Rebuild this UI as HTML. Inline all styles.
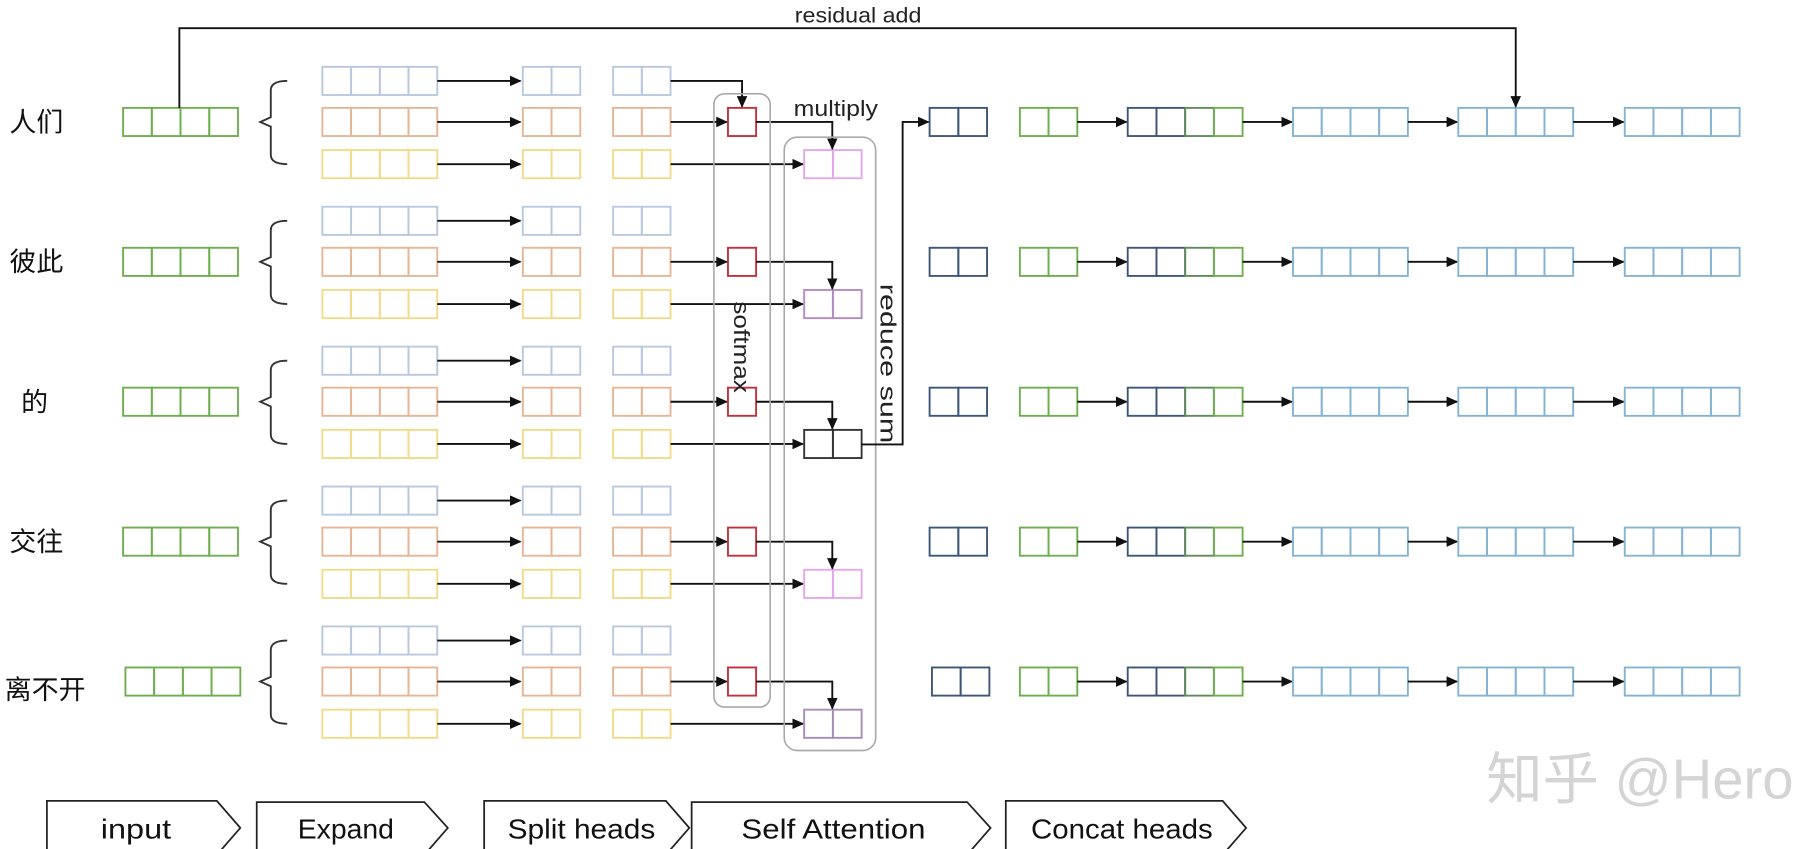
<!DOCTYPE html>
<html><head><meta charset="utf-8"><style>
html,body{margin:0;padding:0;background:#fff;}
svg{display:block;}
text{font-family:"Liberation Sans","Noto Sans CJK SC",sans-serif;}
</style></head><body>
<svg id="s" width="1817" height="849" viewBox="0 0 1550 724" preserveAspectRatio="none" xmlns="http://www.w3.org/2000/svg">
<defs><marker id="a" markerWidth="10" markerHeight="10" refX="9" refY="5" orient="auto" markerUnits="userSpaceOnUse"><path d="M0,0.5 L10,5 L0,9.5z" fill="#111"/></marker></defs>
<g id="g"></g>
<text x="732" y="19" font-size="18" text-anchor="middle" fill="#222" textLength="108" lengthAdjust="spacingAndGlyphs">residual add</text>
<text x="713" y="99" font-size="19" text-anchor="middle" fill="#222" textLength="72" lengthAdjust="spacingAndGlyphs">multiply</text>
<text x="0" y="0" font-size="19" fill="#222" transform="translate(626,257) rotate(90)" textLength="78" lengthAdjust="spacingAndGlyphs">softmax</text>
<text x="0" y="0" font-size="19" fill="#222" transform="translate(751,242) rotate(90)" textLength="136" lengthAdjust="spacingAndGlyphs">reduce sum</text>
<text x="8" y="112" font-size="23" fill="#111">人们</text>
<text x="8" y="231" font-size="23" fill="#111">彼此</text>
<text x="18" y="351" font-size="23" fill="#111">的</text>
<text x="8" y="470" font-size="23" fill="#111">交往</text>
<text x="4" y="596" font-size="23" fill="#111">离不开</text>
<text x="1399" y="681" font-size="48" text-anchor="middle" fill="#d4d4d4">知乎 @Hero</text>
<g fill="#fff" stroke="#222" stroke-width="1.5">
<path d="M40,683 H185 L205,706 L185,729 H40Z"/>
<path d="M219,684 H362 L382,706 L362,729 H219Z"/>
<path d="M413,683 H568 L588,706 L568,729 H413Z"/>
<path d="M590,684 H825 L845,706 L825,729 H590Z"/>
<path d="M858,683 H1043 L1063,706 L1043,729 H858Z"/>
</g>
<g font-size="24" text-anchor="middle" fill="#111">
<text x="116" y="715" textLength="60" lengthAdjust="spacingAndGlyphs">input</text>
<text x="295" y="715" textLength="82" lengthAdjust="spacingAndGlyphs">Expand</text>
<text x="496" y="715" textLength="126" lengthAdjust="spacingAndGlyphs">Split heads</text>
<text x="711" y="715" textLength="157" lengthAdjust="spacingAndGlyphs">Self Attention</text>
<text x="957" y="715" textLength="155" lengthAdjust="spacingAndGlyphs">Concat heads</text>
</g>
</svg>
<script>
var g=document.getElementById('g'),NS='http://www.w3.org/2000/svg';
function el(t,a){var e=document.createElementNS(NS,t);for(var k in a)e.setAttribute(k,a[k]);g.appendChild(e);return e;}
function box(x,y,n,c,cols){var w=24.5;for(var i=0;i<n;i++)el('rect',{x:x+i*w,y:y,width:w,height:24,fill:'none',stroke:cols?cols[i]:c,'stroke-width':1.6});}
function ln(pts,arrow){el('polyline',{points:pts,fill:'none',stroke:'#111','stroke-width':1.6,'marker-end':arrow?'url(#a)':''});}
var B='#b9c8de',O='#e6b595',Y='#f3da88',G='#6fae4f',R='#c2303c',N='#3d5677',L='#85b3d2';
var pur=['#e2a6ea','#b58ac4','#333','#e6a6ee','#a88bb8'];
for(var k=0;k<5;k++){
 var c=104+k*119.3, yb=c-35, yo=c, yy=c+36;
 var gx=k==4?107:105;
 box(gx,c-12,4,G);
 el('path',{d:'M245,'+yb+' Q231,'+yb+' 231,'+(yb+8)+' V'+(c-4)+' L222,'+c+' L231,'+(c+4)+' V'+(yy-8)+' Q231,'+yy+' 245,'+yy,fill:'none',stroke:'#333','stroke-width':1.6});
 var rows=[[yb,B],[yo,O],[yy,Y]];
 rows.forEach(function(r){
  box(275,r[0]-12,4,r[1]);ln('373,'+r[0]+' 444,'+r[0],1);
  box(446,r[0]-12,2,r[1]);box(523,r[0]-12,2,r[1]);
 });
 if(k==0)ln('572,'+yb+' 633,'+yb+' 633,'+(yo-13),1);
 ln('572,'+yo+' 620,'+yo,1);
 el('rect',{x:621,y:yo-12,width:24,height:24,fill:'none',stroke:R,'stroke-width':1.6});
 ln('572,'+yy+' 685,'+yy,1);
 box(686,yy-12,2,pur[k]);
 ln('645,'+yo+' 710,'+yo+' 710,'+(yy-13),1);
 var dx=k==4?795:793;
 box(dx,c-12,2,N);
 box(870,c-12,2,G);
 ln('919,'+c+' 961,'+c,1);
 box(962,c-12,4,null,[N,N,'#5f8a5a',G]);
 ln('1060,'+c+' 1102,'+c,1);
 box(1103,c-12,4,L);ln('1201,'+c+' 1243,'+c,1);
 box(1244,c-12,4,L);ln('1342,'+c+' 1385,'+c,1);
 box(1386,c-12,4,L);
}
el('rect',{x:609,y:80,width:48,height:523,rx:9,fill:'none',stroke:'#aaa','stroke-width':1.4});
el('rect',{x:669,y:117,width:78,height:523,rx:11,fill:'none',stroke:'#aaa','stroke-width':1.4});
ln('735,379 770,379 770,104 792,104',1);
ln('153,92 153,24 1293,24 1293,91',1);
</script>
</body></html>
